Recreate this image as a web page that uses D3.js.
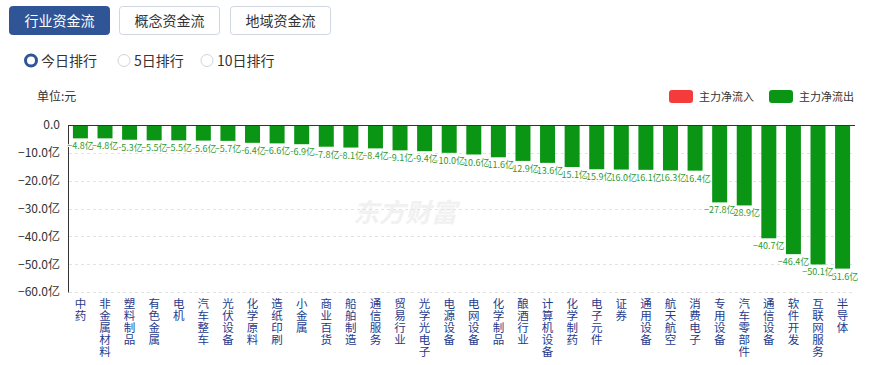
<!DOCTYPE html>
<html><head><meta charset="utf-8">
<script src="https://cdn.jsdelivr.net/npm/d3@7/dist/d3.min.js"></script>
<style>
body{margin:0;background:#fff;font-family:"Noto Sans CJK SC","Noto Sans",sans-serif;}
svg{display:block}
</style></head><body>
<svg id="c" width="872" height="365"></svg>
<script>
const categories=["中药","非金属材料","塑料制品","有色金属","电机","汽车整车","光伏设备","化学原料","造纸印刷","小金属","商业百货","船舶制造","通信服务","贸易行业","光学光电子","电源设备","电网设备","化学制品","酿酒行业","计算机设备","化学制药","电子元件","证券","通用设备","航天航空","消费电子","专用设备","汽车零部件","通信设备","软件开发","互联网服务","半导体"];
const values=[-4.8,-4.8,-5.3,-5.5,-5.5,-5.6,-5.7,-6.4,-6.6,-6.9,-7.8,-8.1,-8.4,-9.1,-9.4,-10.0,-10.6,-11.6,-12.9,-13.6,-15.1,-15.9,-16.0,-16.1,-16.3,-16.4,-27.8,-28.9,-40.7,-46.4,-50.1,-51.6];
const yTicks=[0,-10,-20,-30,-40,-50,-60];
const tabs=["行业资金流","概念资金流","地域资金流"];
const radios=["今日排行","5日排行","10日排行"];
const legendItems=[{name:"主力净流入",color:"#f53b3b"},{name:"主力净流出",color:"#0a9614"}];

const svg=d3.select("#c");
const font='"Noto Sans CJK SC","Noto Sans",sans-serif';

// tabs
const tabX=[9,119,230];
tabs.forEach((t,i)=>{
  const g=svg.append("g");
  g.append("rect").attr("x",tabX[i]+0.5).attr("y",6.5).attr("width",100).attr("height",28).attr("rx",3)
    .attr("fill",i===0?"#2f5596":"#fff").attr("stroke",i===0?"#2f5596":"#cfd6e0");
  g.append("text").attr("x",tabX[i]+50.5).attr("y",25.5).attr("text-anchor","middle")
    .attr("font-size",14).attr("font-family",font).attr("fill",i===0?"#fff":"#333").text(t);
});
// radios
const rX=[31,124,207];
radios.forEach((t,i)=>{
  if(i===0){
    svg.append("circle").attr("cx",rX[i]).attr("cy",60.5).attr("r",5.5).attr("fill","#fff").attr("stroke","#2f5596").attr("stroke-width",3);
  } else {
    svg.append("circle").attr("cx",rX[i]).attr("cy",60.5).attr("r",6).attr("fill","#fff").attr("stroke","#d0d4da");
  }
  svg.append("text").attr("x",rX[i]+10).attr("y",65.5).attr("font-size",14).attr("font-family",font).attr("fill","#333").text(t);
});

// chart
const x0=68,x1=855,yTop=125,yBot=292;
const x=d3.scaleBand().domain(categories).range([x0,x1]).paddingInner(0.39).paddingOuter(0.2);
const y=d3.scaleLinear().domain([0,-60]).range([yTop,yBot]);

// watermark
svg.append("text").attr("x",405).attr("y",222).attr("text-anchor","middle").attr("font-size",26)
  .attr("font-weight","bold").attr("font-style","italic").attr("font-family",font).attr("fill","#f1f1f1").text("东方财富");

// grid
const yAxis=d3.axisLeft(y).tickValues(yTicks).tickSize(0).tickPadding(8)
  .tickFormat(d=>d===0?"0.0":d3.format(".1f")(d)+"亿");
const ga=svg.append("g").attr("transform",`translate(${x0},0)`).call(yAxis);
ga.select(".domain").attr("stroke","#333");
ga.selectAll("text").attr("font-size",12).attr("font-family",font).attr("fill","#333");
svg.append("g").selectAll("line").data(yTicks.filter(d=>d!==0)).join("line")
  .attr("x1",x0+1).attr("x2",x1).attr("y1",d=>Math.round(y(d))+0.5).attr("y2",d=>Math.round(y(d))+0.5)
  .attr("stroke","#e3e3e3").attr("stroke-dasharray","3,3");

svg.append("text").attr("x",37).attr("y",101).attr("font-size",12).attr("font-family",font).attr("fill","#333").text("单位:元");

// bars
svg.append("g").selectAll("rect").data(values).join("rect")
  .attr("x",(d,i)=>x(categories[i])).attr("width",x.bandwidth())
  .attr("y",y(0)).attr("height",d=>y(d)-y(0)).attr("fill","#0a9614");

// top axis line
svg.append("line").attr("x1",x0).attr("x2",x1).attr("y1",yTop+0.5).attr("y2",yTop+0.5).attr("stroke","#333");

// value labels (drawn in reverse so earlier labels overlap later ones)
const idx=d3.range(values.length).reverse();
svg.append("g").selectAll("text").data(idx).join("text")
  .attr("x",i=>x(categories[i])+x.bandwidth()/2).attr("y",i=>y(values[i])+11)
  .attr("text-anchor","middle").attr("font-size",9).attr("font-family",font)
  .attr("fill","#2f9a2f").attr("stroke","#fff").attr("stroke-width",2).attr("paint-order","stroke")
  .text(i=>d3.format(".1f")(values[i])+"亿");

// x labels vertical, one character per line
const xl=svg.append("g");
categories.forEach((c,i)=>{
  const t=xl.append("text").attr("text-anchor","middle").attr("font-size",11.5).attr("font-family",font).attr("fill","#1f3b8c");
  [...c].forEach((ch,k)=>{
    t.append("tspan").attr("x",x(c)+x.bandwidth()/2).attr("y",307.5+k*12).text(ch);
  });
});

// legend
legendItems.forEach((l,i)=>{
  const lx=669+i*100;
  svg.append("rect").attr("x",lx).attr("y",90).attr("width",24).attr("height",13).attr("rx",3).attr("fill",l.color);
  svg.append("text").attr("x",lx+30).attr("y",101).attr("font-size",11).attr("font-family",font).attr("fill","#333").text(l.name);
});
</script></body></html>
